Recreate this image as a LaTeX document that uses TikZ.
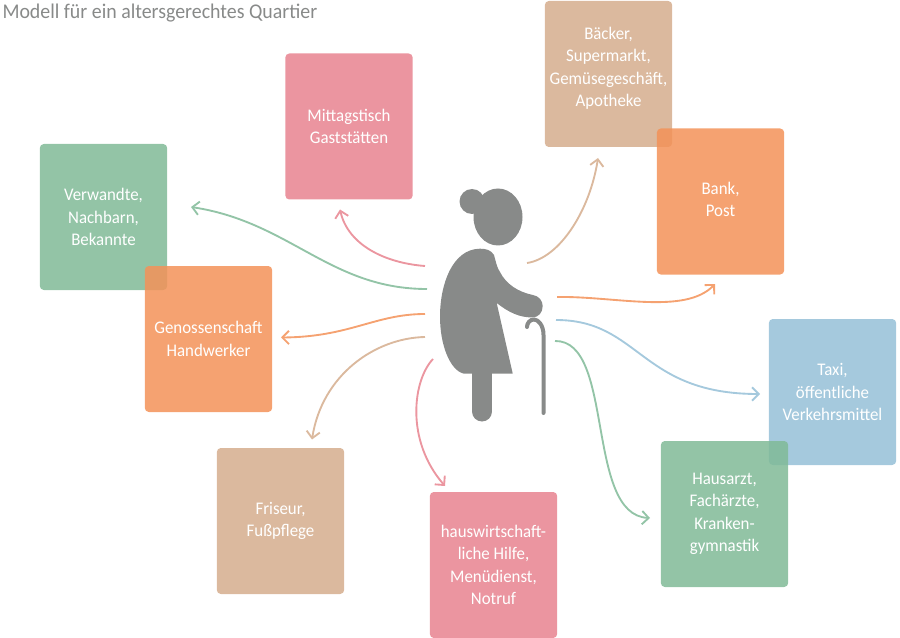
\documentclass[tikz,border=0pt]{standalone}
\usepackage{fontspec}
\setmainfont[FakeStretch=0.95]{Carlito}
\usetikzlibrary{arrows.meta}

\definecolor{boxgreen}{RGB}{128,186,151}
\definecolor{boxorange}{RGB}{243,146,88}
\definecolor{boxpink}{RGB}{231,131,143}
\definecolor{boxtan}{RGB}{213,173,141}
\definecolor{boxblue}{RGB}{149,192,215}
\definecolor{figgray}{RGB}{136,138,137}

\tikzset{every picture/.style={line width=0.75pt}}
\tikzset{
  infobox/.style={rectangle,rounded corners=3pt,minimum width=95.5pt,minimum height=109.5pt,
    inner sep=0pt,fill opacity=0.85,text opacity=1,text=white,align=center,
    font=\fontsize{13.3}{16.9}\selectfont},
  link/.style={line width=1.4pt,-{Straight Barb[length=5pt,width=10pt,line width=1.4pt]}},
}

\begin{document}
\begin{tikzpicture}[x=0.75pt,y=0.75pt,yscale=-1,xscale=1]
\useasboundingbox (0,0) rectangle (900,638);

% Title
\node (title) [anchor=west,inner sep=0pt,text=figgray,font=\fontsize{15.7}{18}\selectfont] at (2,13.5) {Modell für ein altersgerechtes Quartier};

% Boxes
\node (mittag) [infobox,fill=boxpink] at (349,126.5) {Mittagstisch\\Gaststätten};
\node (baecker) [infobox,fill=boxtan] at (608.5,74) {Bäcker,\\Supermarkt,\\Gemüsegeschäft,\\Apotheke\rule[-11pt]{0pt}{0pt}};
\node (bank) [infobox,fill=boxorange] at (720.5,201.5) {Bank,\\Post\rule[-3pt]{0pt}{0pt}};
\node (verwandte) [infobox,fill=boxgreen] at (103.5,217) {Verwandte,\\Nachbarn,\\Bekannte};
\node (genossen) [infobox,fill=boxorange] at (208.5,339) {Genossenschaft\\Handwerker};
\node (friseur) [infobox,fill=boxtan] at (280.5,521) {Friseur,\\Fußpflege};
\node (hauswirt) [infobox,fill=boxpink] at (493.5,565) {hauswirtschaft-\\liche Hilfe,\\Menüdienst,\\Notruf};
\node (taxi) [infobox,fill=boxblue] at (832.5,392) {Taxi,\\öffentliche\\Verkehrsmittel};
\node (hausarzt) [infobox,fill=boxgreen] at (724.5,514) {Hausarzt,\\Fachärzte,\\Kranken-\\gymnastik};

% Person
\fill [figgray] (498,217) ellipse [x radius=24.5,y radius=28.5];
\fill [figgray] (472,201.5) circle [radius=12.5];
\fill [figgray] (480,248.7) .. controls (486,248.7) and (491,250) .. (494,255)
  .. controls (496,262) and (497,268) .. (500,272)
  .. controls (506,284) and (518,292) .. (533,295)
  .. controls (539,296) and (542.7,301) .. (542.7,306)
  .. controls (542.7,313) and (538,317.3) .. (533,317.3)
  .. controls (520,318) and (508,312) .. (496.7,303)
  -- (512.7,373.5) -- (463.3,373.5)
  .. controls (450,370) and (440,345) .. (440,316.7)
  .. controls (440,285) and (452,249) .. (480,248.7) -- cycle;
\draw [figgray,line width=15pt,line cap=round] (482,365) -- (482,411.5);
\draw [figgray,line width=3pt,line cap=round] (543.5,413) -- (543.5,335)
  .. controls (543.5,325) and (538,319.5) .. (534,319.5)
  .. controls (530,319.5) and (527,323) .. (527,327);

% End points of the arrows
\coordinate (sVerwandte) at (427,289);
\coordinate (eVerwandte) at (191,207);
\coordinate (sMittag) at (425,266);
\coordinate (eMittag) at (340,209.5);
\coordinate (sGenossen) at (425,314);
\coordinate (eGenossen) at (281,337.5);
\coordinate (sFriseur) at (425,337);
\coordinate (eFriseur) at (312,439.5);
\coordinate (sHauswirt) at (433,359);
\coordinate (eHauswirt) at (445,486);
\coordinate (sHausarzt) at (555,341);
\coordinate (eHausarzt) at (650,518);
\coordinate (sTaxi) at (556,320);
\coordinate (eTaxi) at (760,394);
\coordinate (sBank) at (557,297);
\coordinate (eBank) at (715,284);
\coordinate (sBaecker) at (527,263);
\coordinate (eBaecker) at (598,158);

% Arrows
\draw [link,boxgreen!85] (sVerwandte) .. controls (330,289) and (290,222) .. (eVerwandte);
\draw [link,boxpink!85] (sMittag) .. controls (385,263) and (348,245) .. (eMittag);
\draw [link,boxorange!85] (sGenossen) .. controls (375,314) and (350,337) .. (eGenossen);
\draw [link,boxtan!85] (sFriseur) .. controls (375,338) and (322,375) .. (eFriseur);
\draw [link,boxpink!85] (sHauswirt) .. controls (413,380) and (405,440) .. (eHauswirt);
\draw [link,boxgreen!85] (sHausarzt) .. controls (615,340) and (585,515) .. (eHausarzt);
\draw [link,boxblue!85] (sTaxi) .. controls (640,320) and (640,394) .. (eTaxi);
\draw [link,boxorange!85] (sBank) .. controls (615,296) and (685,315) .. (eBank);
\draw [link,boxtan!85] (sBaecker) .. controls (560,258) and (590,210) .. (eBaecker);

\end{tikzpicture}
\end{document}
